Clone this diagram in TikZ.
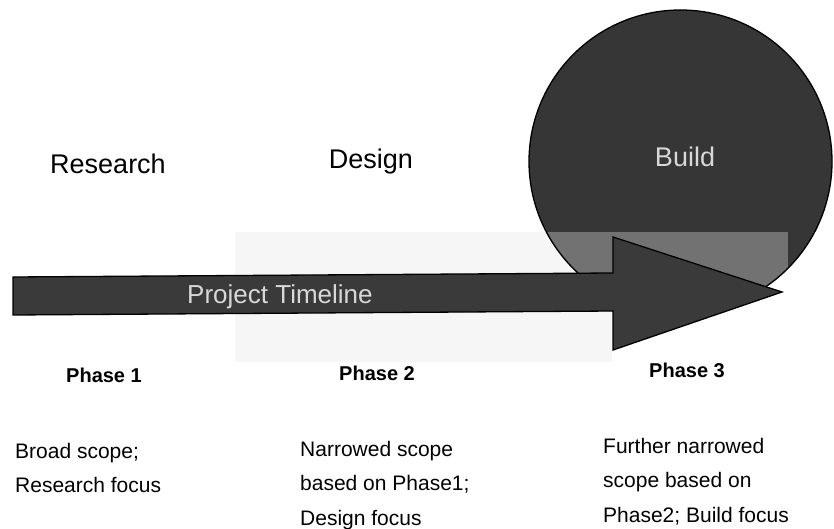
\documentclass[tikz,border=0pt]{standalone}
\usepackage{fontspec}
\setmainfont{Liberation Sans}
\definecolor{circfill}{HTML}{363636}
\definecolor{arrfill}{HTML}{3A3A3A}
\definecolor{bandfill}{HTML}{727272}
\definecolor{speck}{HTML}{F6F6F6}
\definecolor{lighttxt}{HTML}{D8D8D8}
\tikzset{
  title/.style={inner sep=0pt, font=\fontsize{27}{30}\selectfont, text=black},
  phase/.style={inner sep=0pt, font=\fontsize{20}{24}\selectfont\bfseries, text=black},
  desc/.style={inner sep=0pt, anchor=north west, align=left, font=\fontsize{21}{34.5}\selectfont, text=black},
  darkshape/.style={draw=black, line width=1.3pt},
}
\begin{document}
\begin{tikzpicture}[x=1pt,y=-1pt]
\useasboundingbox (0,0) rectangle (834,529);
% faint background patch
\fill[speck] (235,232) rectangle (612,362);
% circle
\node[darkshape, circle, fill=circfill, minimum size=303pt, inner sep=0pt] (buildc) at (680.5,161.5) {};
% lighter band inside circle
\begin{scope}
  \clip (680.5,161.5) circle (150.5);
  \fill[bandfill] (540,232) rectangle (788,300);
\end{scope}
% arrow
\draw[darkshape, fill=arrfill, line join=miter]
  (13,277) -- (613,273) -- (613,237) -- (782,292) -- (613,350) -- (613,311) -- (13,315) -- cycle;
% titles
\node[title, anchor=base] (research) at (108,174) {Research};
\node[title, anchor=base] (design) at (371,169) {Design};
\node[title, anchor=base, text=lighttxt] (build) at (685,167) {Build};
\node[title, anchor=base west, text=lighttxt, font=\fontsize{26}{30}\selectfont] (timeline) at (187,303) {Project Timeline};
% phases
\node[phase] (p1) at (104,375) {Phase 1};
\node[phase] (p2) at (377,373) {Phase 2};
\node[phase] (p3) at (687,370) {Phase 3};
% descriptions
\node[desc] (d1) at (15,443) {Broad scope;\\Research focus};
\node[desc] (d2) at (300,441) {Narrowed scope\\based on Phase1;\\Design focus};
\node[desc] (d3) at (603,438) {Further narrowed\\scope based on\\Phase2; Build focus};
\end{tikzpicture}
\end{document}
